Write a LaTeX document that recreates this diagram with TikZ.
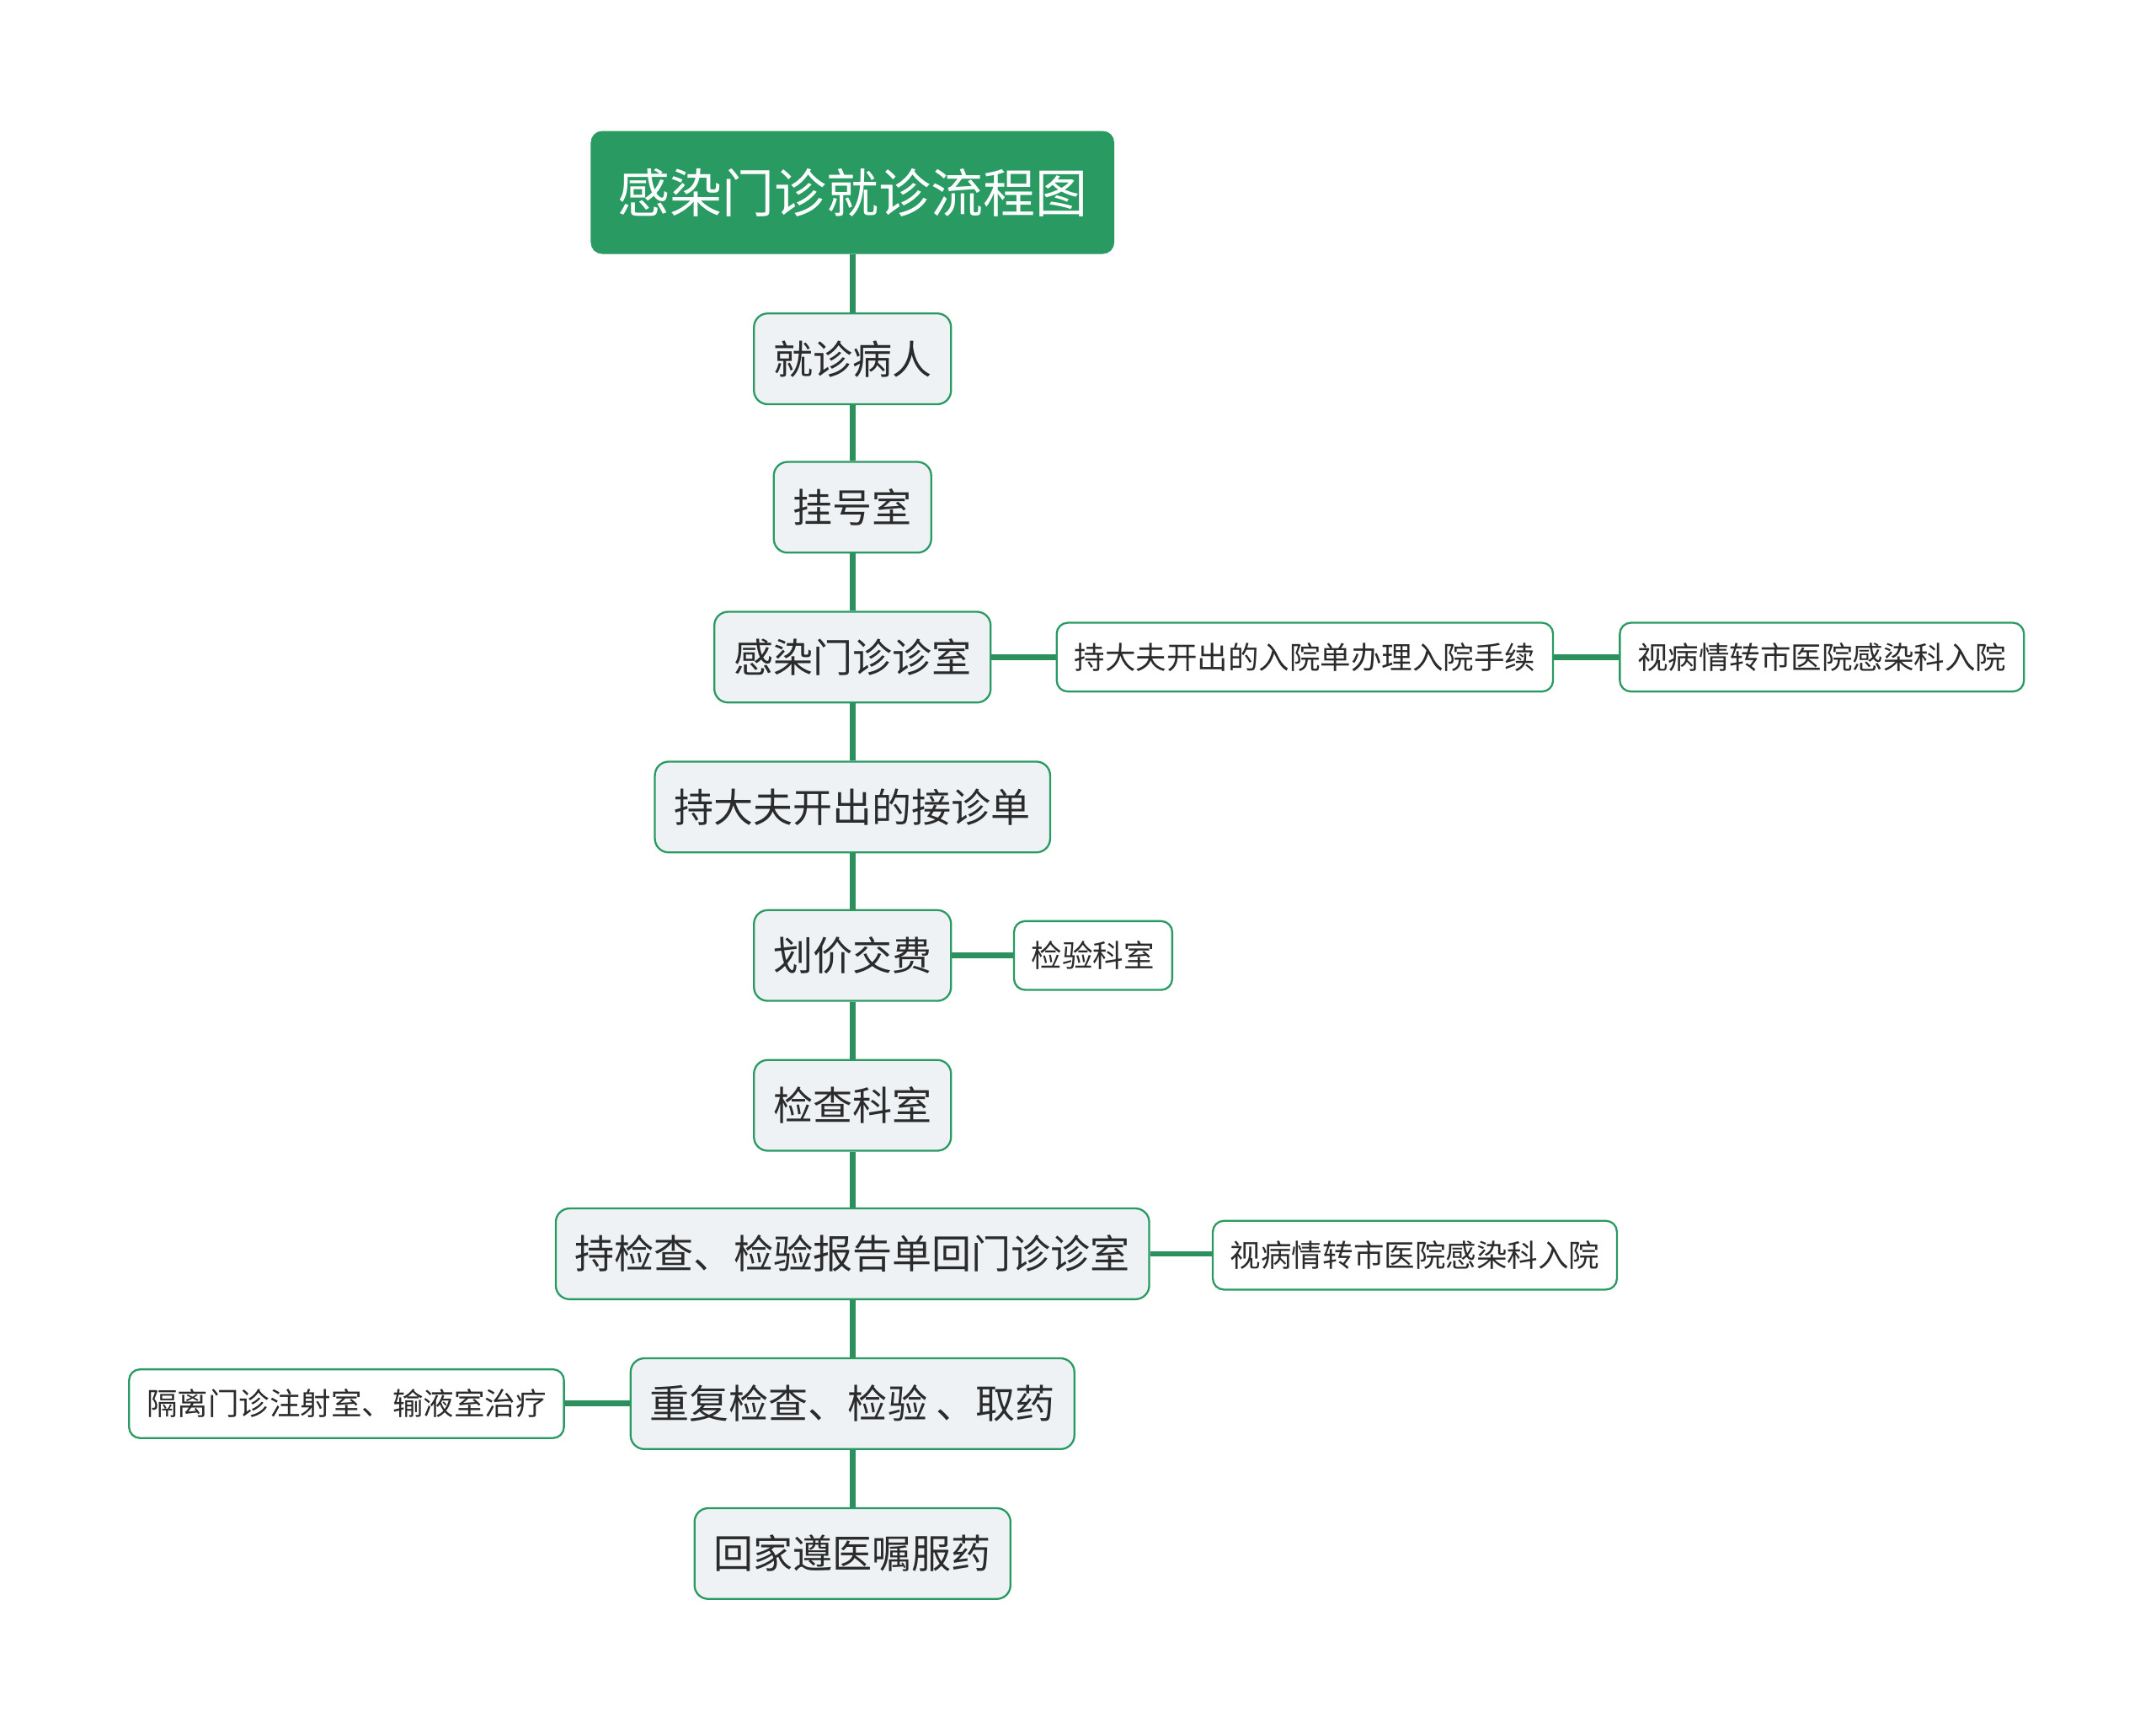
\documentclass[tikz,border=0pt]{standalone}
\usepackage{fontspec}
\newfontfamily\cjk{Noto Sans CJK SC}
\definecolor{mapgreen}{HTML}{2A9A63}
\definecolor{linkgreen}{HTML}{2B8F5E}
\definecolor{boxgray}{HTML}{EEF2F5}
\definecolor{textdark}{HTML}{2B2B2B}
\tikzset{
	topic/.style={draw=mapgreen, fill=mapgreen, text=white, rounded corners=0.2cm,
		minimum height=2.22cm, inner xsep=0.48cm, font=\cjk\fontsize{27pt}{27pt}\selectfont},
	mainbox/.style={draw=mapgreen, line width=1pt, fill=boxgray, text=textdark, rounded corners=0.25cm,
		minimum height=1.65cm, inner xsep=0.35cm, font=\cjk\fontsize{20.5pt}{20.5pt}\selectfont},
	sidebox/.style={draw=mapgreen, line width=1pt, fill=white, text=textdark, rounded corners=0.2cm,
		minimum height=1.25cm, inner xsep=0.32cm, font=\cjk\fontsize{15.9pt}{15.9pt}\selectfont},
	link/.style={draw=linkgreen, line width=3pt}
}
\begin{document}
\begin{tikzpicture}[x=0.025cm, y=-0.025cm]
	
	% Page frame
	\useasboundingbox (0,0) rectangle (1568,1260);
	
	% Title
	\node[topic] (title) at (620,140) {感染门诊就诊流程图};
	
	% Main steps (top to bottom)
	\foreach \name/\y/\txt in {
		patient/261/就诊病人,
		register/369/挂号室,
		clinic/478/感染门诊诊室,
		admit/587/持大夫开出的接诊单,
		pay/695/划价交费,
		exam/804/检查科室,
		report/912/持检查、检验报告单回门诊诊室,
		repeat/1021/重复检查、检验 、取药,
		home/1130/回家遵医嘱服药} {
		\node[mainbox] (\name) at (620,\y) {\txt};
	}
	
	% Side notes
	\node[sidebox] (ticket) at (949,478) {持大夫开出的入院单办理入院手续};
	\node[sidebox] (transferA) at (1325,478) {视病情转市医院感染科入院};
	\node[sidebox] (lab) at (795,695) {检验科室};
	\node[sidebox] (transferB) at (1029,913) {视病情转市医院感染科入院};
	\node[sidebox] (infusion) at (252,1021) {隔离门诊注射室、输液室治疗};
	
	% Trunk
	\foreach \a/\b in {title/patient, patient/register, register/clinic, clinic/admit,
		admit/pay, pay/exam, exam/report, report/repeat, repeat/home} {
		\draw[link] (\a) -- (\b);
	}
	
	% Branches
	\draw[link] (clinic) -- (ticket);
	\draw[link] (ticket) -- (transferA);
	\draw[link] (pay) -- (lab);
	\draw[link] (report.east) -- (transferB.west |- report.east);
	\draw[link] (repeat) -- (infusion);
	
\end{tikzpicture}
\end{document}
